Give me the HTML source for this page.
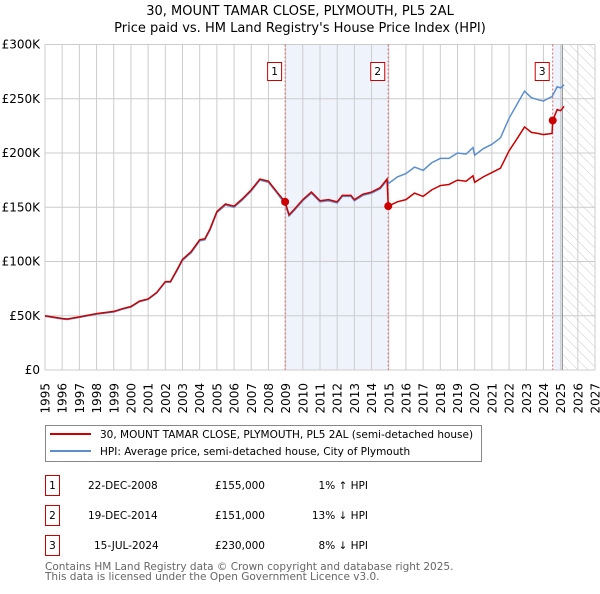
<!DOCTYPE html>
<html><head><meta charset="utf-8"><style>
body{margin:0;background:#fff;font-family:"DejaVu Sans","Liberation Sans",sans-serif;}
svg text{font-family:"DejaVu Sans","Liberation Sans",sans-serif;}
</style></head><body>
<svg id="chart" width="600" height="590" xmlns="http://www.w3.org/2000/svg">
<defs><pattern id="hatch" width="7" height="7" patternUnits="userSpaceOnUse" patternTransform="rotate(-45)"><line x1="0" y1="0" x2="0" y2="7" stroke="#ccc" stroke-width="1"/></pattern></defs>
<text x="300" y="15" text-anchor="middle" font-size="13">30, MOUNT TAMAR CLOSE, PLYMOUTH, PL5 2AL</text>
<text x="300" y="32" text-anchor="middle" font-size="13">Price paid vs. HM Land Registry's House Price Index (HPI)</text>
<g id="plot"></g>
<rect x="45.5" y="425.5" width="436" height="36" fill="#fff" stroke="#888"/>
<line x1="50" y1="434" x2="91" y2="434" stroke="#cc0000" stroke-width="2"/>
<text x="100" y="438" font-size="10.5">30, MOUNT TAMAR CLOSE, PLYMOUTH, PL5 2AL (semi-detached house)</text>
<line x1="50" y1="451" x2="91" y2="451" stroke="#5b8fd0" stroke-width="2"/>
<text x="100" y="455" font-size="10.5">HPI: Average price, semi-detached house, City of Plymouth</text>
<g font-size="10.5">
<rect x="45.5" y="475.5" width="14" height="20" fill="#fff" stroke="#cc0000"/><text x="52.5" y="489" text-anchor="middle">1</text>
<text x="88" y="489">22-DEC-2008</text><text x="265" y="489" text-anchor="end">£155,000</text><text x="368" y="489" text-anchor="end">1% ↑ HPI</text>
<rect x="45.5" y="505.5" width="14" height="20" fill="#fff" stroke="#cc0000"/><text x="52.5" y="519" text-anchor="middle">2</text>
<text x="88" y="519">19-DEC-2014</text><text x="265" y="519" text-anchor="end">£151,000</text><text x="368" y="519" text-anchor="end">13% ↓ HPI</text>
<rect x="45.5" y="535.5" width="14" height="20" fill="#fff" stroke="#cc0000"/><text x="52.5" y="549" text-anchor="middle">3</text>
<text x="94" y="549">15-JUL-2024</text><text x="265" y="549" text-anchor="end">£230,000</text><text x="368" y="549" text-anchor="end">8% ↓ HPI</text>
</g>
<text x="45" y="570" font-size="10.5" fill="#666">Contains HM Land Registry data © Crown copyright and database right 2025.</text>
<text x="45" y="580" font-size="10.5" fill="#666">This data is licensed under the Open Government Licence v3.0.</text>
</svg>
<script>
const hpiYears=[1995,1996,1996.3,1997,1998,1999,1999.5,2000,2000.5,2001,2001.5,2002,2002.3,2002.7,2003,2003.5,2004,2004.3,2004.6,2005,2005.5,2006,2006.5,2007,2007.5,2008,2008.5,2008.97,2009.2,2009.5,2010,2010.5,2011,2011.5,2012,2012.3,2012.8,2013,2013.5,2014,2014.5,2014.9,2015,2015.5,2016,2016.5,2017,2017.5,2018,2018.5,2019,2019.5,2019.9,2020,2020.5,2021,2021.5,2022,2022.5,2022.9,2023.3,2023.7,2024,2024.5,2024.8,2025,2025.2];
const hpiValues=[49.5,47,46.5,48.5,51.5,53.5,56,58,63,65,71,81,81,92,101,108,119,120,129,145,152,150,157,165,175,173,163,153,142,147,156,163,155,156,154,160,160,156,161,163,167,175,172,178,181,187,184,191,195,195,200,199,205,198,204,208,214,232,246,257,251,249,248,252,261,260,263];
const redYears=[1995,1996,1996.3,1997,1998,1999,1999.5,2000,2000.5,2001,2001.5,2002,2002.3,2002.7,2003,2003.5,2004,2004.3,2004.6,2005,2005.5,2006,2006.5,2007,2007.5,2008,2008.5,2008.97,2009.2,2009.5,2010,2010.5,2011,2011.5,2012,2012.3,2012.8,2013,2013.5,2014,2014.5,2014.9,2014.97,2015.5,2016,2016.5,2017,2017.5,2018,2018.5,2019,2019.5,2019.9,2020,2020.5,2021,2021.5,2022,2022.5,2022.9,2023.3,2023.7,2024,2024.5,2024.54,2024.8,2025,2025.2];
const redValues=[50,47.5,47,49,52,54,56.5,58.5,63.5,65.5,71.5,81.5,81.5,93,102,109,120,121,130,146,153,151,158,166,176,174,164,155,143,148,157,164,156,157,155,161,161,157,162,164,168,176,151,155,157,163,160,166,170,171,175,174,179,173,178,182,186,202,214,224,219,218,217,218,230,240,239,243];
const saleYears=[2008.97,2014.97,2024.54];
const saleValues=[155,151,230];
const saleLabels=["1","2","3"];
const yTicks=[0,50,100,150,200,250,300];
const yTickLabels=["£0","£50K","£100K","£150K","£200K","£250K","£300K"];
const xTicks=[1995,1996,1997,1998,1999,2000,2001,2002,2003,2004,2005,2006,2007,2008,2009,2010,2011,2012,2013,2014,2015,2016,2017,2018,2019,2020,2021,2022,2023,2024,2025,2026,2027];

const X0=45,X1=595,Y0=370,Y1=44.5;
const xs=y=>X0+(y-1995)/(2027-1995)*(X1-X0);
const ys=v=>Y0-v/300*(Y0-Y1);
const NS="http://www.w3.org/2000/svg";
const g=document.getElementById('plot');
function mk(t,a,p){const e=document.createElementNS(NS,t);for(const k in a)e.setAttribute(k,a[k]);(p||g).appendChild(e);return e;}
let e;
e=mk('rect',{x:xs(saleYears[0]),y:Y1,width:xs(saleYears[1])-xs(saleYears[0]),height:Y0-Y1,fill:'#eef3fc'});


e=mk('rect',{x:xs(saleYears[2]),y:Y1,width:xs(2025.1)-xs(saleYears[2]),height:Y0-Y1,fill:'#eef3fc'});


e=mk('rect',{x:xs(2025.1),y:Y1,width:X1-xs(2025.1),height:Y0-Y1,fill:'url(#hatch)'});


xTicks.forEach(t=>{
 e=mk('line',{x1:xs(t),x2:xs(t),y1:Y1,y2:Y0,stroke:'#ccc','stroke-width':1});
 
 
 e=mk('text',{x:0,y:0,transform:`translate(${xs(t)+4.5},${Y0+13}) rotate(-90)`,'text-anchor':'end','font-size':'12'});
 e.textContent=t;
 
 
});
yTicks.forEach((t,i)=>{
 e=mk('line',{x1:X0,x2:X1,y1:ys(t),y2:ys(t),stroke:'#ccc','stroke-width':1});
 
 
 e=mk('text',{x:X0-5,y:ys(t)+4,'text-anchor':'end','font-size':'12'});
 e.textContent=yTickLabels[i];
 
 
});
e=mk('line',{x1:xs(2025.1),x2:xs(2025.1),y1:Y1,y2:Y0,stroke:'#888','stroke-width':1});


saleYears.forEach((s,i)=>{
 e=mk('line',{x1:xs(s),x2:xs(s),y1:Y1,y2:Y0,stroke:'#e06060','stroke-width':1,'stroke-dasharray':'2,2'});
 
 
});
e=mk('polyline',{points:hpiYears.map((y,i)=>xs(y)+','+ys(hpiValues[i])).join(' '),fill:'none',stroke:'#5b8fd0','stroke-width':1.5});


e=mk('polyline',{points:redYears.map((y,i)=>xs(y)+','+ys(redValues[i])).join(' '),fill:'none',stroke:'#cc0000','stroke-width':1.5});


saleYears.forEach((s,i)=>{
 e=mk('circle',{cx:xs(s),cy:ys(saleValues[i]),r:4,fill:'#cc0000'});
 
 
 e=mk('rect',{x:xs(s)-17.5,y:62.5,width:14,height:18,fill:'#fff',stroke:'#cc0000'});
 
 
 e=mk('text',{x:xs(s)-10.5,y:75,'text-anchor':'middle','font-size':'10.5'});
 e.textContent=saleLabels[i];
 
 
});
</script>
</body></html>
